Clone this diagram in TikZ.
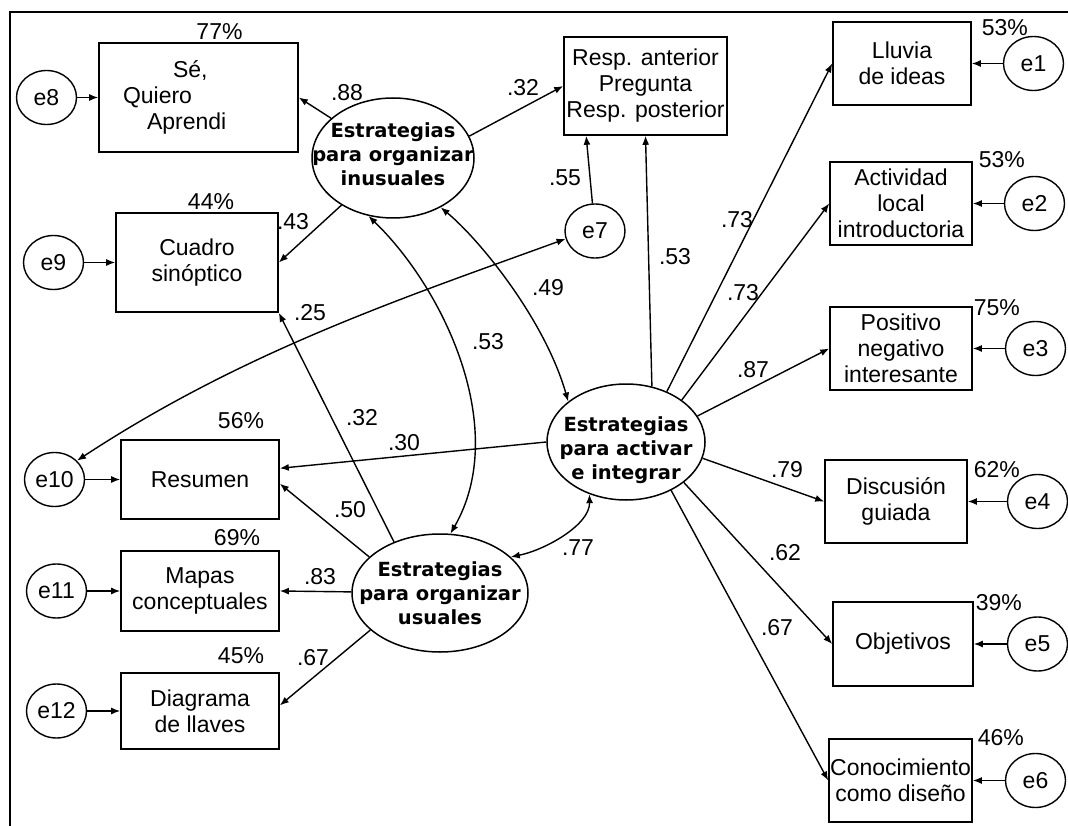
\documentclass[tikz,border=0pt]{standalone}
\usepackage{fontspec}
\setmainfont{Liberation Sans}
\newfontfamily\latfont{DejaVu Sans}
\usetikzlibrary{shapes.geometric, arrows.meta, positioning}

\begin{document}
\begin{tikzpicture}[
    x=1pt, y=-1pt,
    indicator/.style={
        draw, line width=1.6pt, rectangle,
        inner sep=1pt, align=center,
        font=\fontsize{23}{26}\selectfont
    },
    factor/.style={
        draw, line width=1.5pt, ellipse, inner sep=0pt
    },
    factext/.style={
        align=center, inner sep=0pt,
        font=\latfont\bfseries\fontsize{19.5}{24}\selectfont
    },
    errvar/.style={
        draw, line width=1.4pt, ellipse, inner sep=0pt,
        minimum width=60pt, minimum height=54pt,
        font=\fontsize{23}{26}\selectfont
    },
    arr/.style={
        -{Latex[length=9pt,width=7pt]}, line width=1.4pt
    },
    covar/.style={
        {Latex[length=9pt,width=7pt]}-{Latex[length=9pt,width=7pt]}, line width=1.4pt
    },
    coef/.style={
        font=\fontsize{23}{26}\selectfont, inner sep=0pt
    },
    pct/.style={
        font=\fontsize{23}{26}\selectfont, inner sep=0pt
    }
]
\useasboundingbox (0,0) rectangle (1068,826);
\draw[line width=2pt] (10,826) -- (10,12) -- (1068,12);

% factores
\node[factor, minimum width=162pt, minimum height=120pt,
      label={[factext, yshift=4pt]center:Estrategias\\para organizar\\inusuales}] (inu) at (393,158) {};
\node[factor, minimum width=158pt, minimum height=116pt,
      label={[factext, yshift=-8pt]center:Estrategias\\para activar\\e integrar}] (act) at (626,442) {};
\node[factor, minimum width=176pt, minimum height=118pt,
      label={[factext]center:Estrategias\\para organizar\\usuales}] (usu) at (440,593) {};

% indicadores de la izquierda
\node[indicator, align=left, text width=151pt, inner xsep=24pt, minimum height=109pt] (sab) at (198.5,97.5) {
    \hspace*{50pt}Sé,\\
    Quiero\\
    \hspace*{24pt}Aprendi
};
\node[indicator, minimum width=162pt, minimum height=99pt] (cua) at (197,262.5) {Cuadro\\sinóptico};
\node[indicator, minimum width=158pt, minimum height=79pt] (res) at (200,479.5) {Resumen};
\node[indicator, minimum width=158pt, minimum height=80pt] (map) at (200,591) {Mapas\\conceptuales};
\node[indicator, minimum width=158pt, minimum height=76pt] (dia) at (200,711) {Diagrama\\de llaves};

% Resp. anterior / posterior
\node[indicator, minimum width=163pt, minimum height=98pt] (resp) at (645.5,86) {
    Resp. anterior\\
    Pregunta\\
    Resp. posterior
};
\node[errvar] (e7) at (595,231) {e7};

% indicadores de la derecha
\node[indicator, minimum width=138pt, minimum height=83pt] (llu) at (902,63.5) {Lluvia\\de ideas};
\node[indicator, minimum width=142pt, minimum height=83pt] (loc) at (901,203.5) {Actividad\\local\\introductoria};
\node[indicator, minimum width=142pt, minimum height=83pt] (pos) at (901,348.5) {Positivo\\negativo\\interesante};
\node[indicator, minimum width=142pt, minimum height=83pt] (dis) at (896,501.5) {Discusión\\guiada};
\node[indicator, minimum width=140pt, minimum height=84pt] (obj) at (903,644) {Objetivos};
\node[indicator, minimum width=143pt, minimum height=83pt] (con) at (900.5,780.5) {Conocimiento\\como diseño};

% errores
\node[errvar, left=21pt of sab] (e8) {e8};
\node[errvar, left=31pt of cua] (e9) {e9};
\node[errvar, left=35pt of res] (e10) {e10};
\node[errvar, left=33pt of map] (e11) {e11};
\node[errvar, left=33pt of dia] (e12) {e12};
\node[errvar, right=31pt of llu] (e1) {e1};
\node[errvar, right=31pt of loc] (e2) {e2};
\node[errvar, right=32pt of pos] (e3) {e3};
\node[errvar, right=39pt of dis] (e4) {e4};
\node[errvar, right=33pt of obj] (e5) {e5};
\node[errvar, right=32pt of con] (e6) {e6};

% varianza explicada
\node[pct, above=2pt of sab, xshift=21pt] (p8) {77\%};
\node[pct, above=2pt of cua, xshift=14pt] (p9) {44\%};
\node[pct, above=10pt of res, xshift=41pt] (p10) {56\%};
\node[pct, above=4pt of map, xshift=37pt] (p11) {69\%};
\node[pct, above=8pt of dia, xshift=41pt] (p12) {45\%};
\node[pct, xshift=33pt, yshift=-6pt] (p1) at (llu.north east) {53\%};
\node[pct, xshift=29pt, yshift=2pt] (p2) at (loc.north east) {53\%};
\node[pct, xshift=24pt, yshift=-1pt] (p3) at (pos.north east) {75\%};
\node[pct, xshift=29pt, yshift=-10pt] (p4) at (dis.north east) {62\%};
\node[pct, xshift=25pt, yshift=-1pt] (p5) at (obj.north east) {39\%};
\node[pct, xshift=28pt, yshift=1pt] (p6) at (con.north east) {46\%};

% errores -> indicadores
\foreach \e/\b in {e8/sab, e9/cua, e10/res, e11/map, e12/dia,
                   e1/llu, e2/loc, e3/pos, e4/dis, e5/obj, e6/con}
    \draw[arr] (\e) -- (\b);

% cargas
\draw[arr] (inu) -- (sab.east);
\draw[arr] (inu) -- (cua.east);
\draw[arr] (inu.16) -- (resp.west);
\draw[arr] (e7) -- (resp.220);
\draw[arr] (act.65) -- (resp.south);
\draw[arr] (act.51) -- (llu.west);
\draw[arr] (act.37) -- (loc.west);
\draw[arr] (act.20) -- (pos.west);
\draw[arr] (act.-12) -- (dis.west);
\draw[arr] (act.-35) -- (obj.west);
\draw[arr] (act.-47) -- (con.west);
\draw[arr] (act.west) -- (res.8);
\draw[arr] (usu.132) -- (cua.south east);
\draw[arr] (usu.153) -- (res.-3);
\draw[arr] (usu) -- (map.east);
\draw[arr] (usu.208) -- (dia.4);

% covarianzas
\draw[covar] (inu.247) .. controls (445,290) and (510,430) .. (usu.80);
\draw[covar] (inu.-46) .. controls (480,240) and (545,320) .. (act.145);
\draw[covar] (usu.27) .. controls (545,550) and (590,525) .. (act.235);
\draw[covar] (e7.195) .. controls (403,298) and (244,351) .. (e10.40);

% coeficientes
\node[coef] (c88) at (347,93) {.88};
\node[coef] (c32a) at (523,88) {.32};
\node[coef] (c43) at (293,222) {.43};
\node[coef] (c55) at (565,178) {.55};
\node[coef] (c53a) at (675,257) {.53};
\node[coef] (c73a) at (737,220) {.73};
\node[coef] (c73b) at (743,293) {.73};
\node[coef] (c87) at (753,370) {.87};
\node[coef] (c79) at (787,470) {.79};
\node[coef] (c62) at (785,553) {.62};
\node[coef] (c67a) at (777,628) {.67};
\node[coef] (c49) at (548,288) {.49};
\node[coef] (c53b) at (488,342) {.53};
\node[coef] (c25) at (310,313) {.25};
\node[coef] (c32b) at (362,418) {.32};
\node[coef] (c30) at (404,443) {.30};
\node[coef] (c50) at (350,510) {.50};
\node[coef] (c77) at (578,548) {.77};
\node[coef] (c83) at (320,577) {.83};
\node[coef] (c67b) at (313,658) {.67};

\end{tikzpicture}
\end{document}
